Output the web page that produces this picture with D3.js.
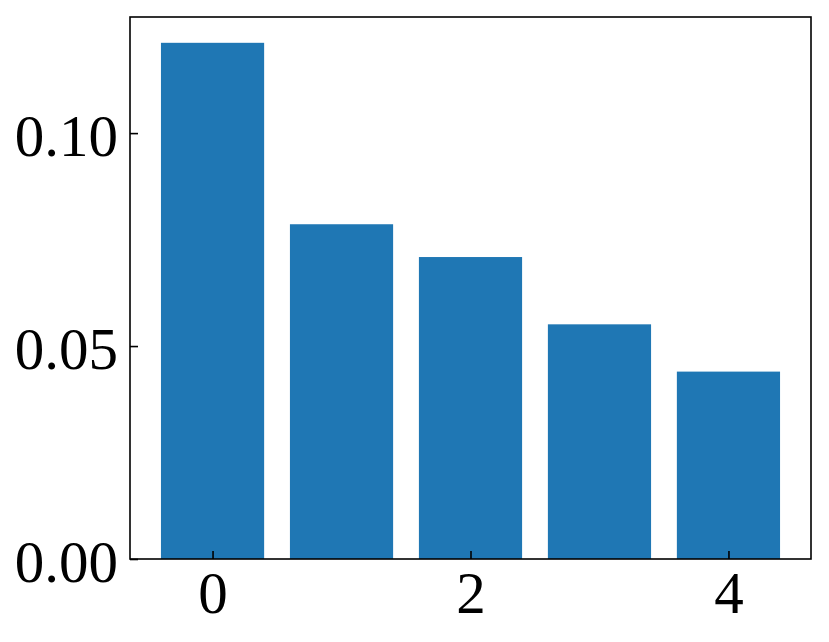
<!doctype html>
<html>
<head>
    <meta charset="utf-8">
    <title>Bar chart</title>
    <style>
        body { margin: 0; background: #fff; }
        .axis text { font-family: "Liberation Serif", serif; font-size: 59px; fill: #000; }
        .axis path { display: none; }
        .axis line { stroke: #000; stroke-width: 1.6; }
        .bar { fill: #1f77b4; }
        .frame { fill: none; stroke: #000; stroke-width: 1.6; }
    </style>
</head>
<body>
<div id="plot"></div>
<script src="https://d3js.org/d3.v7.min.js"></script>
<script>
    // data
    var categories = [0, 1, 2, 3, 4];
    var values = [0.1212, 0.0786, 0.0709, 0.0551, 0.0440];
    var xTicks = [0, 2, 4];
    var yTicks = [0, 0.05, 0.10];

    var W = 829, H = 642;
    var margin = { top: 17, right: 18, bottom: 83, left: 130 };
    var barWidth = 0.8;

    // matplotlib style 5% padding around the bars
    var pad = (categories.length - 1 + barWidth) * 0.05;
    var x = d3.scaleLinear()
        .domain([categories[0] - barWidth / 2 - pad, categories[categories.length - 1] + barWidth / 2 + pad])
        .range([margin.left, W - margin.right]);

    var y = d3.scaleLinear()
        .domain([0, d3.max(values) * 1.05])
        .range([H - margin.bottom, margin.top]);

    var svg = d3.select("#plot").append("svg")
        .attr("width", W)
        .attr("height", H);

    svg.selectAll(".bar")
        .data(values)
        .enter().append("rect")
        .attr("class", "bar")
        .attr("x", function (d, i) { return x(categories[i] - barWidth / 2); })
        .attr("width", function (d, i) { return x(categories[i] + barWidth / 2) - x(categories[i] - barWidth / 2); })
        .attr("y", function (d) { return y(d); })
        .attr("height", function (d) { return y(0) - y(d); });

    // x axis, ticks pointing in
    var gx = svg.append("g")
        .attr("class", "axis")
        .attr("transform", "translate(0," + (H - margin.bottom) + ")")
        .call(d3.axisBottom(x).tickValues(xTicks).tickSize(-8).tickFormat(d3.format("d")));
    gx.selectAll("text").attr("y", 54).attr("dy", "0");

    // y axis
    var gy = svg.append("g")
        .attr("class", "axis")
        .attr("transform", "translate(" + margin.left + ",0)")
        .call(d3.axisLeft(y).tickValues(yTicks).tickSize(-8).tickFormat(d3.format(".2f")));
    gy.selectAll("text").attr("x", -12).attr("dy", "0.38em");

    // box around the plot
    svg.append("rect")
        .attr("class", "frame")
        .attr("x", margin.left)
        .attr("y", margin.top)
        .attr("width", W - margin.left - margin.right)
        .attr("height", H - margin.top - margin.bottom);
</script>
</body>
</html>
